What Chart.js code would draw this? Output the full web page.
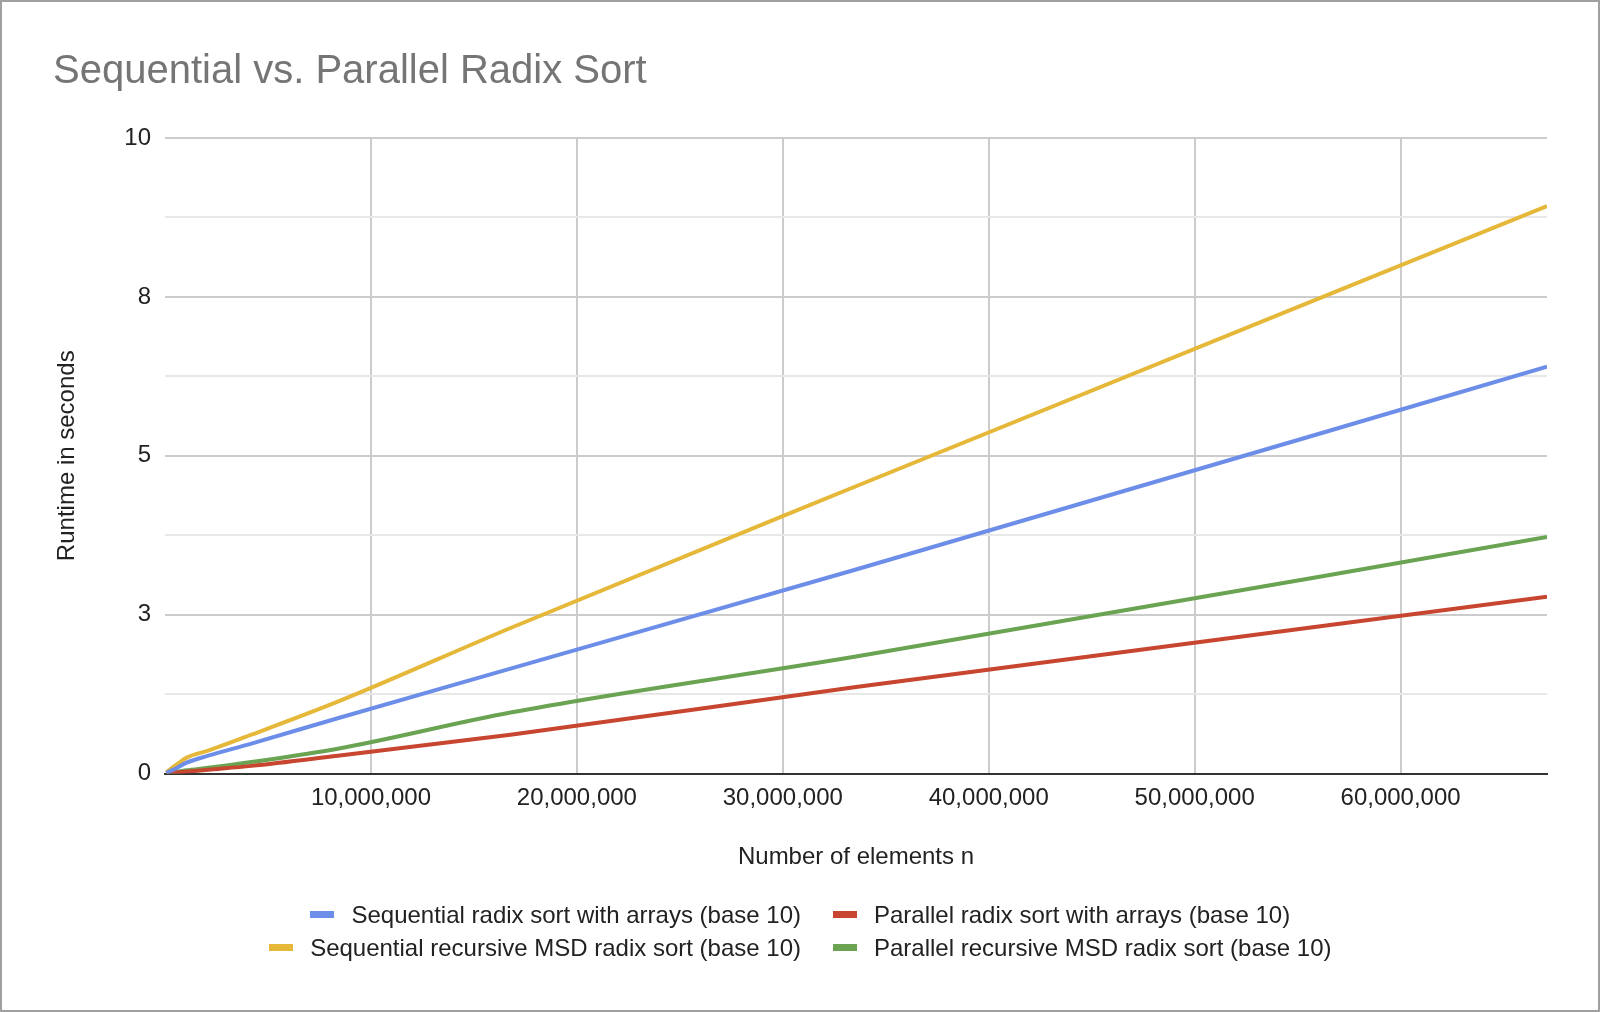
<!DOCTYPE html>
<html>
<head>
<meta charset="utf-8">
<script src="https://cdn.jsdelivr.net/npm/chart.js@4"></script>
<style>
  html, body { margin: 0; padding: 0; background: #ffffff; }
  #wrap { position: relative; width: 1600px; height: 1012px; overflow: hidden; }
  #frame { position: absolute; left: 0; top: 0; width: 1600px; height: 1012px; box-sizing: border-box; border: 2px solid #a0a0a0; pointer-events: none; }
  #legend { position: absolute; left: 0; top: 898px; display: grid; grid-template-columns: 801px 767px; column-gap: 32px; font-family: "Liberation Sans", Arial, sans-serif; font-size: 24px; color: #222222; }
  .item { display: flex; align-items: center; height: 33px; line-height: 33px; white-space: nowrap; }
  .left { justify-self: end; }
  .right { justify-self: start; }
  .mark { display: inline-block; width: 24px; height: 7px; margin-right: 17px; }
</style>
</head>
<body>
<div id="wrap">
  <canvas id="c" width="1600" height="1012"></canvas>
  <div id="legend"></div>
  <div id="frame"></div>
</div>
<script>
const chartTitle = "Sequential vs. Parallel Radix Sort";
const xTitle = "Number of elements n";
const yTitle = "Runtime in seconds";

// number of elements (powers of two)
const nValues = [65536, 131072, 262144, 524288, 1048576, 2097152, 4194304, 8388608, 16777216, 33554432, 67108864];

const seriesNames = [
  "Sequential radix sort with arrays (base 10)",
  "Parallel radix sort with arrays (base 10)",
  "Sequential recursive MSD radix sort (base 10)",
  "Parallel recursive MSD radix sort (base 10)"
];
const seriesColors = ["#6d8ee8", "#c8452f", "#e5b83a", "#6aa453"];

const seqArrays   = [0.010, 0.02, 0.04, 0.08, 0.17, 0.28, 0.47, 0.87, 1.65, 3.21, 6.40];
const parArrays   = [0.002, 0.004, 0.008, 0.015, 0.03, 0.06, 0.12, 0.28, 0.61, 1.36, 2.78];
const seqMSD      = [0.016, 0.035, 0.07, 0.13, 0.25, 0.36, 0.61, 1.13, 2.29, 4.52, 8.93];
const parMSD      = [0.003, 0.006, 0.012, 0.025, 0.05, 0.09, 0.18, 0.39, 0.96, 1.84, 3.72];

const xTickValues = [10000000, 20000000, 30000000, 40000000, 50000000, 60000000];
const xTickLabels = ["10,000,000", "20,000,000", "30,000,000", "40,000,000", "50,000,000", "60,000,000"];
const yGridValues = [0, 1.25, 2.5, 3.75, 5, 6.25, 7.5, 8.75, 10];
const yTickLabels = ["0", "", "3", "", "5", "", "8", "", "10"];

const seriesValues = [seqArrays, parArrays, seqMSD, parMSD];

const FONT = "'Liberation Sans', Arial, sans-serif";

const datasets = seriesValues.map((vals, i) => ({
  label: seriesNames[i],
  data: vals.map((v, j) => ({ x: nValues[j], y: v })),
  borderColor: seriesColors[i],
  backgroundColor: seriesColors[i],
  borderWidth: 4,
  pointRadius: 0,
  cubicInterpolationMode: 'monotone',
  fill: false
}));

new Chart(document.getElementById('c'), {
  type: 'line',
  data: { datasets },
  options: {
    responsive: false,
    animation: false,
    devicePixelRatio: 1,
    layout: { padding: { left: 53, right: 53, top: 0, bottom: 0 } },
    plugins: {
      legend: { display: false },
      tooltip: { enabled: false },
      title: {
        display: true,
        text: chartTitle,
        align: 'start',
        color: '#757575',
        font: { family: FONT, size: 40, weight: 'normal' },
        padding: { top: 48, bottom: 42 }
      }
    },
    scales: {
      x: {
        type: 'linear',
        min: 0,
        max: nValues[nValues.length - 1],
        afterBuildTicks: (scale) => { scale.ticks = xTickValues.map(v => ({ value: v })); },
        afterFit: (scale) => { scale.height = 238.5; },
        ticks: {
          autoSkip: false,
          maxRotation: 0,
          padding: 10,
          color: '#222222',
          font: { family: FONT, size: 24 },
          callback: (v) => { const k = xTickValues.indexOf(v); return k >= 0 ? xTickLabels[k] : ''; }
        },
        grid: { color: '#cccccc', lineWidth: 2, drawTicks: false },
        border: { display: true, color: '#333333', width: 2 },
        title: {
          display: true,
          text: xTitle,
          color: '#222222',
          font: { family: FONT, size: 24 },
          padding: { top: 0, bottom: 140 }
        }
      },
      y: {
        type: 'linear',
        min: 0,
        max: 10,
        afterBuildTicks: (scale) => { scale.ticks = yGridValues.map(v => ({ value: v })); },
        afterFit: (scale) => { scale.width = 112; },
        ticks: {
          autoSkip: false,
          padding: 14,
          color: '#222222',
          font: { family: FONT, size: 24 },
          callback: (v) => { const k = yGridValues.indexOf(v); return k >= 0 ? yTickLabels[k] : ''; }
        },
        grid: {
          color: (ctx) => (ctx.index % 2 === 0 ? '#cccccc' : '#e8e8e8'),
          lineWidth: 2,
          drawTicks: false
        },
        border: { display: false },
        title: {
          display: true,
          text: yTitle,
          color: '#222222',
          font: { family: FONT, size: 24 },
          padding: { top: 0, bottom: 0 }
        }
      }
    }
  }
});

// legend (two columns, like the reference)
const legend = document.getElementById('legend');
const order = [0, 1, 2, 3];
order.forEach((i, k) => {
  const item = document.createElement('div');
  item.className = 'item ' + (k % 2 === 0 ? 'left' : 'right');
  const mark = document.createElement('span');
  mark.className = 'mark';
  mark.style.background = seriesColors[i];
  const txt = document.createElement('span');
  txt.textContent = seriesNames[i];
  item.appendChild(mark);
  item.appendChild(txt);
  legend.appendChild(item);
});
</script>
</body>
</html>
